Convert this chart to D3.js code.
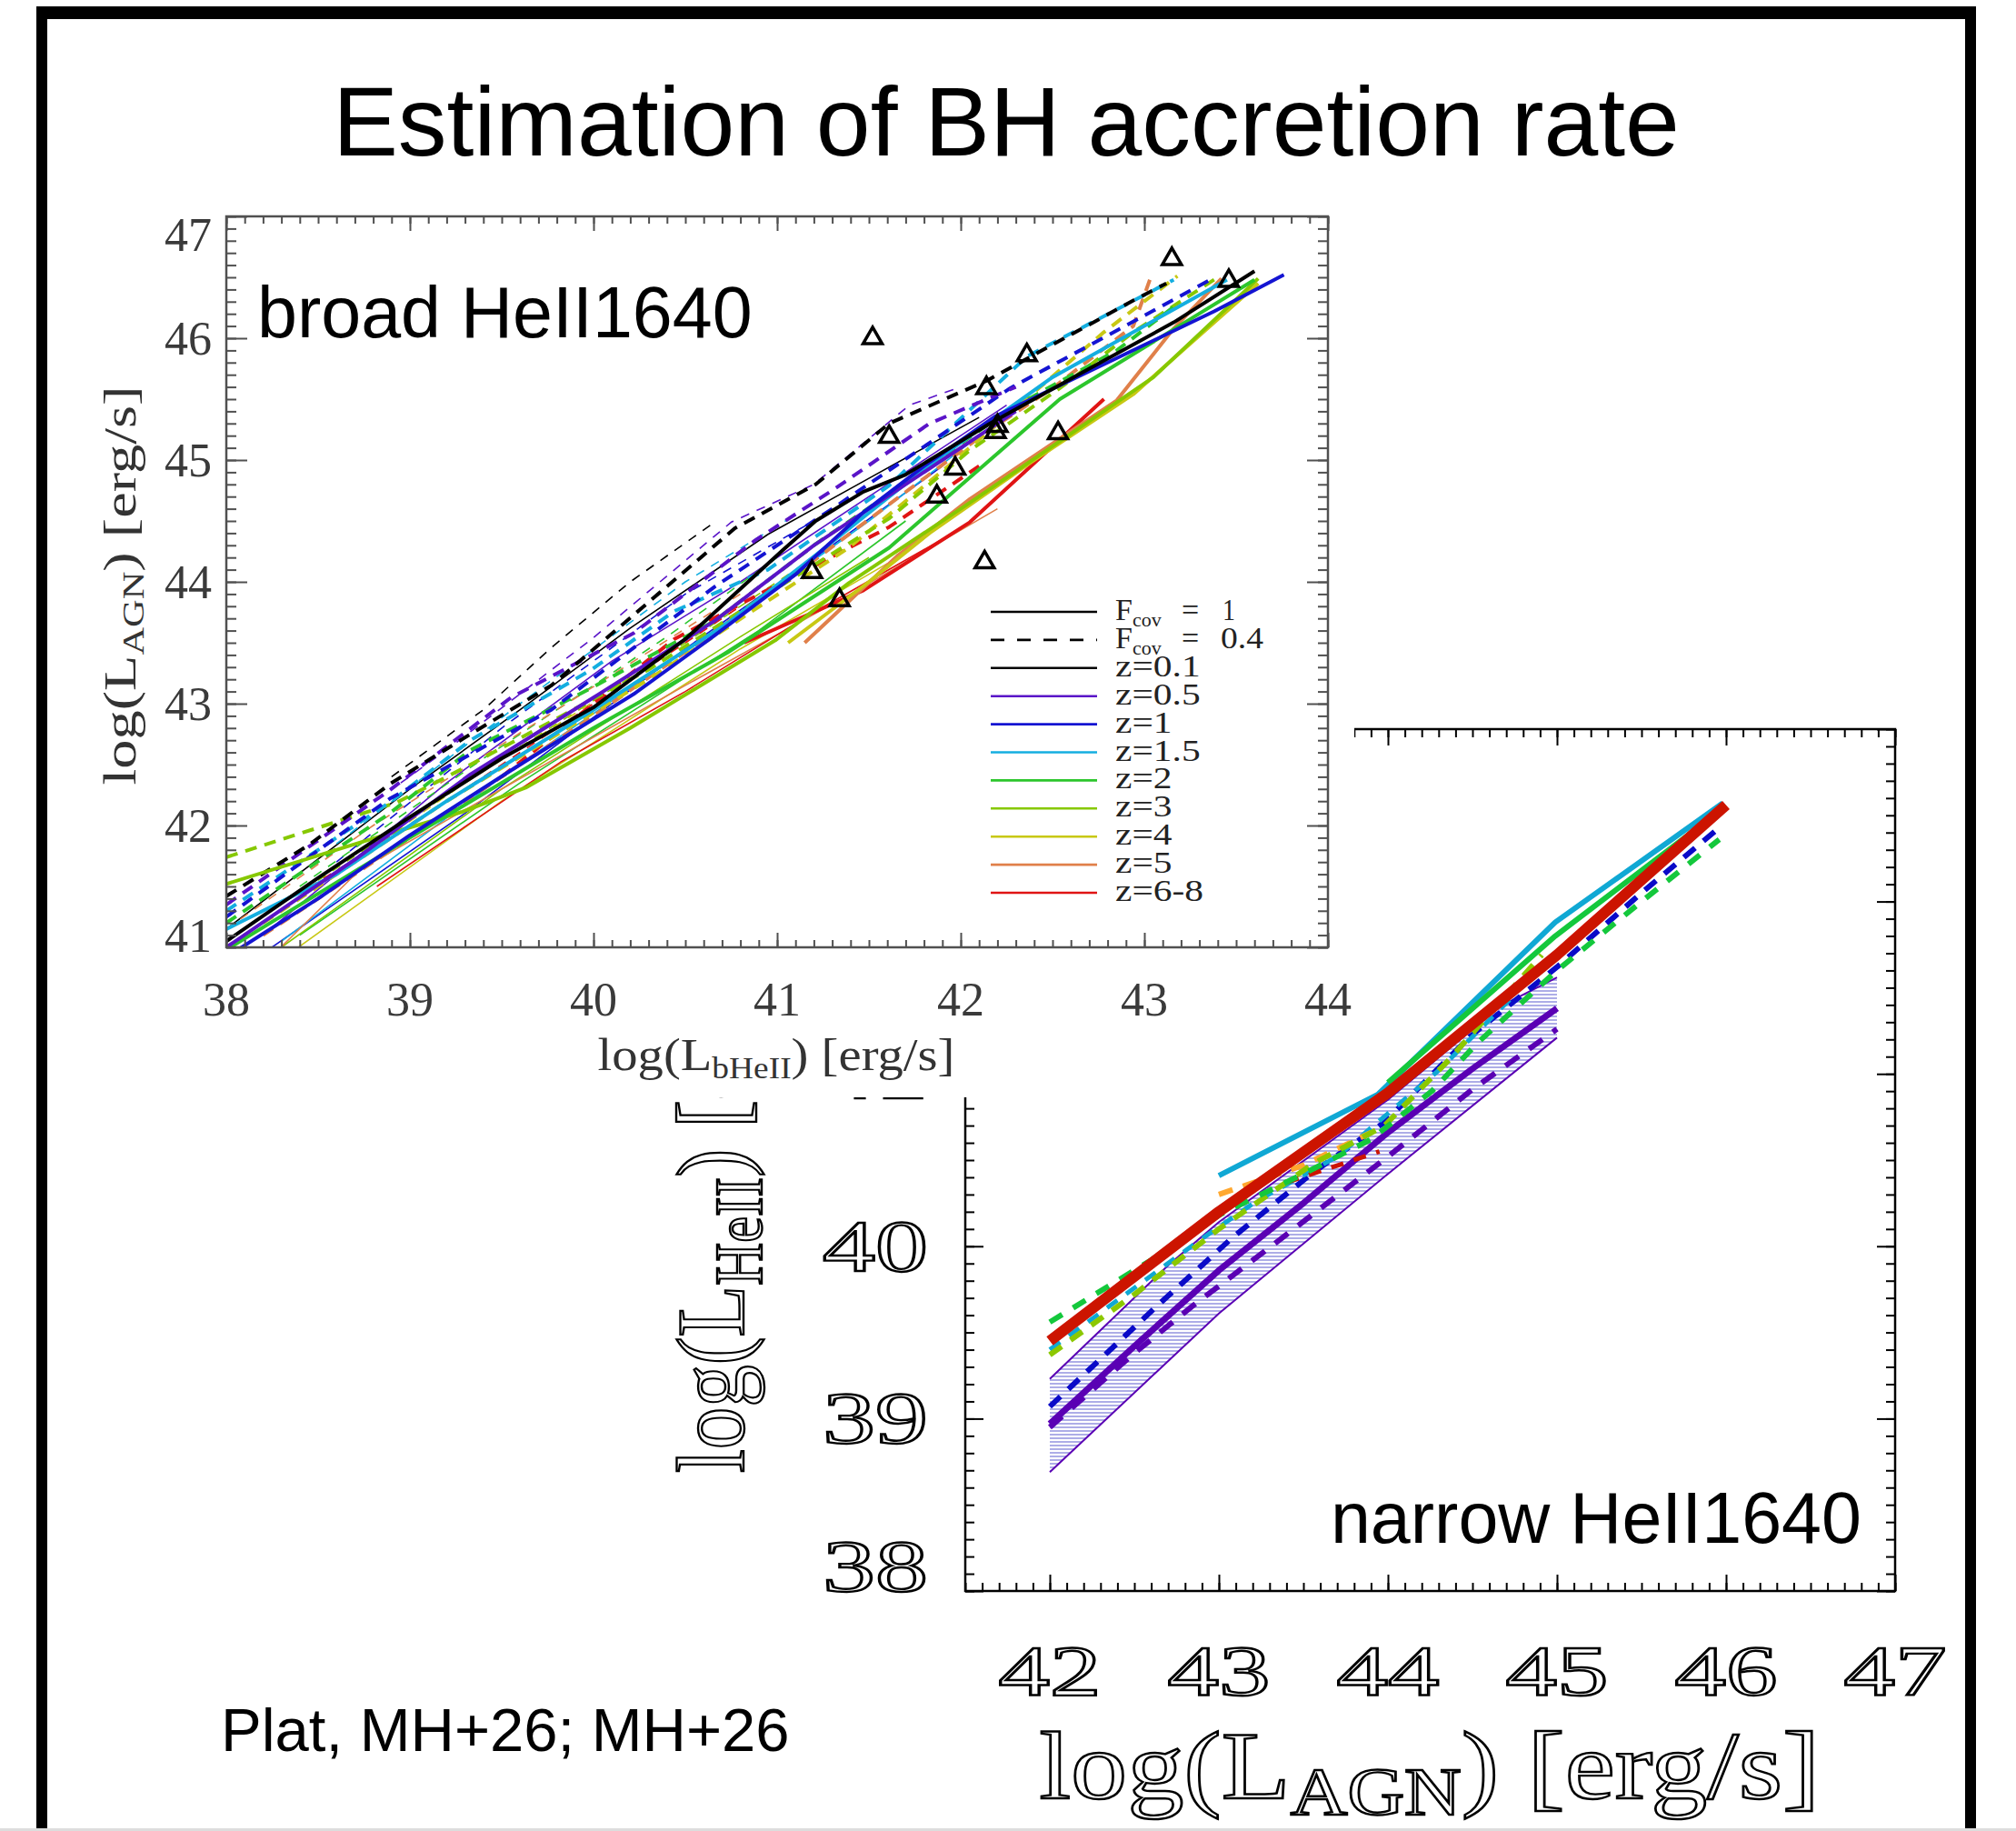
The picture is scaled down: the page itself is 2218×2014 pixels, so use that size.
<!DOCTYPE html>
<html><head><meta charset="utf-8">
<script src="https://cdn.jsdelivr.net/npm/d3@7"></script>
<style>body{margin:0;background:#fff;}svg{display:block}</style>
</head><body>
<svg id="c" width="2218" height="2014"></svg>
<script>
// ---------------- DATA ----------------
const zLabels = ["z=0.1","z=0.5","z=1","z=1.5","z=2","z=3","z=4","z=5","z=6-8"];
const covLabels = ["1","0.4"];
const topXTicks = [38,39,40,41,42,43,44];
const topYTicks = [41,42,43,44,45,46,47];
const botXTicks = [42,43,44,45,46,47];
const botYTicks = [38,39,40,41,42,43];

// observed AGN (triangles), broad HeII panel
const obsX = [43.15,43.46,41.52,42.36,42.14,41.61,42.20,42.19,42.53,41.97,41.87,42.13,41.19,41.34];
const obsY = [46.65,46.47,46.00,45.86,45.59,45.19,45.28,45.23,45.22,44.93,44.70,44.16,44.08,43.85];

// broad HeII, Fcov = 1 (solid)
const bS01  = [[38,41.05],[38.5,41.57],[39,42.07],[39.5,42.55],[40,42.97],[40.5,43.53],[41.03,44.26],[41.21,44.5],[41.47,44.74],[41.7,44.88],[42.16,45.3],[42.7,45.75],[43.16,46.13],[43.6,46.55]];
const bS01t = [[38,41.15],[39,42.3],[39.6,42.95],[40.2,43.62],[40.95,44.39],[41.5,44.85],[42.1,45.35]];
const bS05  = [[38,41.0],[38.7,41.72],[39.33,42.42],[40,43.05],[40.66,43.68],[41.2,44.3],[41.9,45.0],[42.3,45.4]];
const bS05t = [[38.2,41.1],[39.2,42.35],[40.1,43.35],[40.8,44.0],[41.6,44.8],[42.25,45.45]];
const bS1   = [[38,40.92],[38.5,41.4],[39,41.92],[39.6,42.5],[40.22,43.08],[40.66,43.56],[41.1,44.06],[41.47,44.57],[41.8,44.95],[42.19,45.36],[42.8,45.8],[43.38,46.22],[43.76,46.52]];
const bS1t  = [[38.2,40.95],[39.3,42.1],[40.5,43.45],[41.3,44.3],[41.9,44.95]];
const bS15  = [[38,41.15],[38.6,41.6],[39.2,42.2],[40,42.95],[40.73,43.66],[41.21,44.22],[41.83,44.96],[42.5,45.68],[43.45,46.48]];
const bS15t = [[38.3,41.05],[39.5,42.4],[40.8,43.75],[41.5,44.5],[42.1,45.2]];
const bS2   = [[38,40.98],[39,41.9],[40,42.8],[40.73,43.42],[41.61,44.28],[42.54,45.5],[43.6,46.48]];
const bS2t  = [[38.4,41.1],[39.6,42.35],[40.9,43.6],[41.7,44.5]];
const bS3   = [[38,41.52],[38.77,41.88],[39.28,42.11],[39.63,42.31],[40.2,42.8],[40.99,43.52],[41.39,43.99],[42.05,44.65],[43.05,45.68],[43.62,46.49]];
const bS3t  = [[38.3,41.0],[39.5,42.3],[40.8,43.55],[41.5,44.2]];
const bS4   = [[41.06,43.5],[41.5,44.0],[41.83,44.4],[42.4,45.0],[42.94,45.54],[43.62,46.45]];
const bS4t  = [[38.3,40.9],[39.5,42.2],[40.8,43.45],[41.6,44.15]];
const bS5   = [[41.15,43.5],[41.66,44.22],[42.05,44.68],[42.85,45.49],[43.16,46.08],[43.42,46.49]];
const bS5t  = [[38.29,40.99],[38.73,41.64],[39.5,42.3],[40.5,43.15],[41.4,43.9],[42.2,44.6]];
const bS68  = [[40.82,43.5],[41.47,43.93],[42.05,44.49],[42.78,45.5]];
const bS68t = [[38.82,41.5],[39.82,42.52],[40.5,43.1],[41.2,43.75],[41.9,44.35]];

// broad HeII, Fcov = 0.4 (dashed)
const bD01  = [[38,41.42],[38.45,41.84],[38.89,42.34],[39.33,42.75],[39.77,43.15],[40.22,43.73],[40.77,44.44],[41.21,44.8],[41.61,45.3],[42.14,45.65],[42.94,46.31],[43.12,46.45]];
const bD01t = [[38.9,42.4],[39.4,42.95],[39.77,43.46],[40.2,44.0],[40.66,44.49]];
const bD05  = [[38,41.35],[38.89,42.29],[39.55,43.05],[40.22,43.58],[40.88,44.34],[41.32,44.77],[41.83,45.3],[42.3,45.6]];
const bD05t = [[38.95,42.35],[39.2,42.62],[39.99,43.53],[40.75,44.49],[41.2,44.8],[41.72,45.45],[42.0,45.6]];
const bD1   = [[38,41.25],[38.89,42.22],[39.77,42.95],[40.66,43.96],[41.32,44.62],[42.27,45.59],[43.36,46.48]];
const bD1t  = [[38.6,41.7],[39.5,42.8],[40.5,43.9],[41.2,44.5]];
const bD15  = [[38,41.3],[38.9,42.2],[39.33,42.7],[39.99,43.28],[40.44,43.76],[40.95,44.1],[41.61,44.79],[42.36,45.85],[43.16,46.48]];
const bD15t = [[38.6,41.85],[39.6,43.0],[40.5,44.0],[41.1,44.55]];
const bD2   = [[38,41.2],[38.89,42.1],[39.33,42.62],[39.99,43.13],[40.66,43.68],[41.21,44.31],[41.61,44.72],[42.27,45.42],[42.85,45.9],[43.18,46.28]];
const bD2t  = [[38.4,41.5],[39.4,42.55],[40.4,43.55],[41.0,44.2]];
const bD3   = [[38,41.74],[38.93,42.19],[39.33,42.5],[40.3,43.28],[41.0,43.95],[41.61,44.52],[42.05,45.08],[42.54,45.59],[42.94,46.05],[43.38,46.48]];
const bD3t  = [[38.5,41.55],[39.5,42.55],[40.5,43.5],[41.3,44.3]];
const bD4   = [[38.2,41.2],[39.2,42.2],[40.3,43.2],[41.39,44.28],[41.94,44.96],[42.78,46.05],[43.18,46.51]];
const bD4t  = [[38.3,41.3],[39.3,42.35],[40.3,43.3]];
const bD5   = [[38.2,41.1],[39.0,41.9],[40.0,42.9],[41.0,43.95],[41.72,44.76],[42.16,45.25],[42.5,45.59],[42.94,46.1],[43.03,46.48]];
const bD5t  = [[38.0,41.15],[38.8,42.0],[39.8,42.95],[40.8,43.9]];
const bD68  = [[39.5,42.4],[40.44,43.53],[40.88,43.88],[41.61,44.45],[42.1,44.95]];
const bD68t = [[38.45,41.49],[39.2,42.2],[40.0,43.0],[40.8,43.8]];

// narrow HeII panel
const nBandUpper = [[42,39.23],[42.7,39.89],[43,40.14],[44,40.85],[44.66,41.39],[45,41.56]];
const nBandLower = [[42,38.69],[43,39.61],[44,40.42],[45,41.21]];
const nPurpleSolid  = [[42,38.97],[42.5,39.42],[43,39.86],[43.5,40.25],[44,40.66],[44.5,41.03],[45,41.38]];
const nPurpleDashed = [[42,38.95],[42.5,39.38],[42.84,39.65],[43.35,40.03],[44,40.52],[44.5,40.91],[45,41.26]];
const nBlueDashed   = [[42,39.07],[42.63,39.65],[43.08,40.05],[43.56,40.43],[43.98,40.72],[44.49,41.22],[45,41.62],[45.5,42.05],[45.95,42.42]];
const nCyanDashed   = [[42,39.4],[42.88,40.03],[43.22,40.26],[43.7,40.52],[44.3,41.02],[44.72,41.43]];
const nOrangeDashed = [[43.0,40.3],[43.5,40.47],[43.9,40.66]];
const nRedDashed    = [[43.4,40.37],[43.95,40.55]];
const nYGDashed     = [[42,39.37],[42.5,39.72],[43,40.1],[43.56,40.48],[43.98,40.7],[44.36,41.08],[44.91,41.69]];
const nGreenDashed  = [[42,39.56],[42.6,39.92],[43,40.18],[43.5,40.42],[43.9,40.62],[44.26,40.9],[44.53,41.18],[45,41.6],[45.5,42.0],[45.96,42.36]];
const nCyanSolid    = [[43,40.41],[43.94,40.88],[44.99,41.88],[45.98,42.57]];
const nGreenSolid   = [[44,40.95],[44.99,41.8],[45.97,42.53]];
const nRedSolid     = [[42,39.45],[43,40.2],[44,40.89],[45,41.69],[46,42.56]];

// ---------------- STYLE ----------------
const zColors = ["#000000","#5a14c8","#1414d2","#14aee0","#2cc62c","#86c800","#c8c814","#e0804a","#e01414"];
const SERIF = "'Liberation Serif','DejaVu Serif',serif";
const SANS = "'Liberation Sans',Arial,Helvetica,sans-serif";

const topSeries = [
  {z:0,cov:1,thick:false,pts:bS01t},{z:1,cov:1,thick:false,pts:bS05t},{z:2,cov:1,thick:false,pts:bS1t},
  {z:3,cov:1,thick:false,pts:bS15t},{z:4,cov:1,thick:false,pts:bS2t},{z:5,cov:1,thick:false,pts:bS3t},
  {z:6,cov:1,thick:false,pts:bS4t},{z:7,cov:1,thick:false,pts:bS5t},{z:8,cov:1,thick:false,pts:bS68t},
  {z:0,cov:0,thick:false,pts:bD01t},{z:1,cov:0,thick:false,pts:bD05t},{z:2,cov:0,thick:false,pts:bD1t},
  {z:3,cov:0,thick:false,pts:bD15t},{z:4,cov:0,thick:false,pts:bD2t},{z:5,cov:0,thick:false,pts:bD3t},
  {z:6,cov:0,thick:false,pts:bD4t},{z:7,cov:0,thick:false,pts:bD5t},{z:8,cov:0,thick:false,pts:bD68t},
  {z:8,cov:0,thick:true,pts:bD68},{z:7,cov:0,thick:true,pts:bD5},{z:6,cov:0,thick:true,pts:bD4},
  {z:5,cov:0,thick:true,pts:bD3},{z:4,cov:0,thick:true,pts:bD2},{z:3,cov:0,thick:true,pts:bD15},
  {z:2,cov:0,thick:true,pts:bD1},{z:1,cov:0,thick:true,pts:bD05},{z:0,cov:0,thick:true,pts:bD01},
  {z:8,cov:1,thick:true,pts:bS68},{z:7,cov:1,thick:true,pts:bS5},{z:6,cov:1,thick:true,pts:bS4},
  {z:5,cov:1,thick:true,pts:bS3},{z:4,cov:1,thick:true,pts:bS2},{z:3,cov:1,thick:true,pts:bS15},
  {z:1,cov:1,thick:true,pts:bS05},{z:2,cov:1,thick:true,pts:bS1},{z:0,cov:1,thick:true,pts:bS01}
];

const botSeries = [
  {pts:nPurpleDashed,color:"#5a00b4",w:6,dash:"18,14"},
  {pts:nPurpleSolid,color:"#5a00b4",w:7,dash:null},
  {pts:nBlueDashed,color:"#0a0ac8",w:6,dash:"16,12"},
  {pts:nCyanDashed,color:"#10a8d4",w:5,dash:"14,12"},
  {pts:nOrangeDashed,color:"#ffa830",w:6,dash:"16,12"},
  {pts:nRedDashed,color:"#cc1400",w:5,dash:"14,12"},
  {pts:nYGDashed,color:"#8cc800",w:6,dash:"16,12"},
  {pts:nGreenDashed,color:"#14c83c",w:6,dash:"16,14"},
  {pts:nCyanSolid,color:"#10a8d4",w:6,dash:null},
  {pts:nGreenSolid,color:"#14c83c",w:6,dash:null},
  {pts:nRedSolid,color:"#cc1400",w:12,dash:null}
];

// ---------------- DRAW ----------------
const svg = d3.select("#c");
const defs = svg.append("defs");
const pat = defs.append("pattern").attr("id","hatch").attr("patternUnits","userSpaceOnUse")
  .attr("width",8).attr("height",4);
pat.append("line").attr("x1",0).attr("y1",2).attr("x2",8).attr("y2",2)
  .attr("stroke","#6a6ad4").attr("stroke-width",1.1);

svg.append("rect").attr("width",2218).attr("height",2014).attr("fill","#fff");

function rng(a,b,s){ const out=[]; const n=Math.round((b-a)/s); for(let i=0;i<=n;i++) out.push(+(a+i*s).toFixed(3)); return out; }

function drawAxes(g, x, y, opt){
  const [x0,x1] = x.range(), [y0,y1] = y.range();
  const xMin = rng(x.domain()[0], x.domain()[1], 0.1);
  const yMin = rng(y.domain()[0], y.domain()[1], 0.1);
  const mk = (axisFn, tr, vals, len) => {
    const a = g.append("g").attr("transform",tr)
      .call(axisFn.tickValues(vals).tickSizeInner(-len).tickSizeOuter(0).tickFormat(""));
    a.select(".domain").remove();
    a.selectAll("line").attr("stroke",opt.color).attr("stroke-width",opt.tw);
  };
  mk(d3.axisBottom(x), `translate(0,${y0})`, xMin, opt.xmin);
  mk(d3.axisBottom(x), `translate(0,${y0})`, opt.xMaj, opt.xmaj);
  mk(d3.axisTop(x), `translate(0,${y1})`, xMin, opt.xmin);
  mk(d3.axisTop(x), `translate(0,${y1})`, opt.xMaj, opt.xmaj);
  mk(d3.axisLeft(y), `translate(${x0},0)`, yMin, opt.ymin);
  mk(d3.axisLeft(y), `translate(${x0},0)`, opt.yMaj, opt.ymaj);
  mk(d3.axisRight(y), `translate(${x1},0)`, yMin, opt.ymin);
  mk(d3.axisRight(y), `translate(${x1},0)`, opt.yMaj, opt.ymaj);
  g.append("rect").attr("x",x0).attr("y",y1).attr("width",x1-x0).attr("height",y0-y1)
    .attr("fill","none").attr("stroke",opt.color).attr("stroke-width",opt.bw);
}
// hollow, thin-outlined serif glyphs (like the stroked plot font)
function hollow(sel){ return sel.attr("fill","#fff").attr("stroke","#000").attr("stroke-width",2.4); }

// ===== Bottom panel: narrow HeII =====
const xB = d3.scaleLinear().domain([41.5,47]).range([1062,2085]);
const yB = d3.scaleLinear().domain([38,43]).range([1750,802]);
const gB = svg.append("g");
const lineB = d3.line().x(d=>xB(d[0])).y(d=>yB(d[1]));

gB.append("path").attr("d", lineB(nBandUpper.concat(nBandLower.slice().reverse()))+"Z")
  .attr("fill","url(#hatch)").attr("stroke","none");
[nBandUpper,nBandLower].forEach(p=>gB.append("path").attr("d",lineB(p))
  .attr("fill","none").attr("stroke","#5a00b4").attr("stroke-width",2));
botSeries.forEach(s=>{
  gB.append("path").attr("d",lineB(s.pts)).attr("fill","none")
    .attr("stroke",s.color).attr("stroke-width",s.w)
    .attr("stroke-dasharray",s.dash).attr("stroke-linecap","butt").attr("stroke-linejoin","round");
});
drawAxes(gB, xB, yB, {color:"#000", tw:2, bw:2.5, xMaj:[42,43,44,45,46,47], yMaj:botYTicks,
  xmaj:18, xmin:9, ymaj:20, ymin:10});

gB.selectAll(".bxl").data(botXTicks).join("text")
  .attr("x",d=>xB(d)).attr("y",1864).attr("text-anchor","middle")
  .attr("font-family",SERIF).attr("font-size",78)
  .attr("textLength",113).attr("lengthAdjust","spacingAndGlyphs").text(d=>d).call(hollow);
gB.selectAll(".byl").data(botYTicks).join("text")
  .attr("x",1021).attr("y",d=> d===38 ? yB(d) : yB(d)+27).attr("text-anchor","end")
  .attr("font-family",SERIF).attr("font-size",80)
  .attr("textLength",116).attr("lengthAdjust","spacingAndGlyphs").text(d=>d).call(hollow);

const bxt = gB.append("text").attr("x",1573).attr("y",1978).attr("text-anchor","middle")
  .attr("font-family",SERIF).attr("font-size",106)
  .attr("textLength",859).attr("lengthAdjust","spacingAndGlyphs").call(hollow);
bxt.append("tspan").text("log(L");
bxt.append("tspan").attr("font-size",74).attr("dy",18).text("AGN");
bxt.append("tspan").attr("dy",-18).text(") [erg/s]");

const byt = gB.append("text").attr("transform","translate(818,1620) rotate(-90)")
  .attr("text-anchor","start").attr("font-family",SERIF).attr("font-size",106)
  .attr("textLength",620).attr("lengthAdjust","spacingAndGlyphs").call(hollow);
byt.append("tspan").text("log(L");
byt.append("tspan").attr("font-size",74).attr("dy",20).text("HeII");
byt.append("tspan").attr("dy",-20).text(") [erg/s]");

gB.append("text").attr("x",2048).attr("y",1697).attr("text-anchor","end")
  .attr("font-family",SANS).attr("font-size",79).attr("fill","#000").text("narrow HeII1640");

// ===== Cover (top panel image background) =====
svg.append("rect").attr("x",55).attr("y",215).attr("width",1435).attr("height",992).attr("fill","#fff");

// ===== Top panel: broad HeII =====
const xT = d3.scaleLinear().domain([38,44]).range([249,1461]);
const yT = d3.scaleLinear().domain([41,47]).range([1042,238]);
const gT = svg.append("g");
defs.append("clipPath").attr("id","clipT").append("rect")
  .attr("x",249).attr("y",238).attr("width",1212).attr("height",804);
const lineT = d3.line().x(d=>xT(d[0])).y(d=>yT(d[1]));
const gL = gT.append("g").attr("clip-path","url(#clipT)");
topSeries.forEach(s=>{
  gL.append("path").attr("d",lineT(s.pts)).attr("fill","none")
    .attr("stroke",zColors[s.z])
    .attr("stroke-width", s.thick ? 4 : 1.6)
    .attr("stroke-dasharray", s.cov===0 ? (s.thick ? "13,9" : "10,9") : null)
    .attr("stroke-linejoin","round");
});
const sym = d3.symbol().type(d3.symbolTriangle).size(190);
gT.selectAll(".tri").data(obsX.map((x,i)=>[x,obsY[i]])).join("path")
  .attr("d",sym).attr("transform",d=>`translate(${xT(d[0])},${yT(d[1])})`)
  .attr("fill","none").attr("stroke","#000").attr("stroke-width",3.5);

drawAxes(gT, xT, yT, {color:"#505050", tw:2, bw:2.5, xMaj:topXTicks, yMaj:topYTicks,
  xmaj:16, xmin:8, ymaj:23, ymin:11});

gT.selectAll(".txl").data(topXTicks).join("text")
  .attr("x",d=>xT(d)).attr("y",1117).attr("text-anchor","middle")
  .attr("font-family",SERIF).attr("font-size",52).attr("fill","#3a3a3a").text(d=>d);
gT.selectAll(".tyl").data(topYTicks).join("text")
  .attr("x",233).attr("y",d=> yT(d)+18 + (d===47 ? 20 : d===41 ? -13 : 0)).attr("text-anchor","end")
  .attr("font-family",SERIF).attr("font-size",52).attr("fill","#3a3a3a").text(d=>d);

const txt = gT.append("text").attr("x",854).attr("y",1177).attr("text-anchor","middle")
  .attr("font-family",SERIF).attr("font-size",50).attr("fill","#333")
  .attr("textLength",393).attr("lengthAdjust","spacingAndGlyphs");
txt.append("tspan").text("log(L");
txt.append("tspan").attr("font-size",33).attr("dy",9).text("bHeII");
txt.append("tspan").attr("dy",-9).text(") [erg/s]");

const tyt = gT.append("text").attr("transform","translate(149,644) rotate(-90)")
  .attr("text-anchor","middle").attr("font-family",SERIF).attr("font-size",50).attr("fill","#333")
  .attr("textLength",439).attr("lengthAdjust","spacingAndGlyphs");
tyt.append("tspan").text("log(L");
tyt.append("tspan").attr("font-size",33).attr("dy",9).text("AGN");
tyt.append("tspan").attr("dy",-9).text(") [erg/s]");

gT.append("text").attr("x",283).attr("y",371)
  .attr("font-family",SANS).attr("font-size",79).attr("fill","#000").text("broad HeII1640");

// legend
const lg = gT.append("g");
const rowY = i => 673 + i*30.9;
[0,1].forEach(i=>{
  lg.append("line").attr("x1",1090).attr("x2",1207).attr("y1",rowY(i)).attr("y2",rowY(i))
    .attr("stroke","#000").attr("stroke-width",2.6).attr("stroke-dasharray", i===1 ? "15,14" : null);
  const t = lg.append("text").attr("x",1227).attr("y",rowY(i)+9)
    .attr("font-family",SERIF).attr("font-size",34).attr("fill","#222");
  t.append("tspan").text("F");
  t.append("tspan").attr("font-size",22).attr("dy",7).text("cov");
  lg.append("text").attr("x",1300).attr("y",rowY(i)+9).attr("font-family",SERIF).attr("font-size",34)
    .attr("fill","#222").text("=");
  lg.append("text").attr("x", i===0 ? 1345 : 1343).attr("y",rowY(i)+9).attr("font-family",SERIF)
    .attr("font-size",34).attr("fill","#222")
    .attr("textLength", i===0 ? 14 : 47).attr("lengthAdjust","spacingAndGlyphs").text(covLabels[i]);
});
zLabels.forEach((lab,j)=>{
  const i = j+2;
  lg.append("line").attr("x1",1090).attr("x2",1207).attr("y1",rowY(i)).attr("y2",rowY(i))
    .attr("stroke",zColors[j]).attr("stroke-width",2.6);
  lg.append("text").attr("x",1227).attr("y",rowY(i)+9).attr("font-family",SERIF)
    .attr("font-size",34).attr("fill","#222").text(lab)
    .each(function(){ const L=this.getComputedTextLength(); d3.select(this).attr("textLength",L*1.22).attr("lengthAdjust","spacingAndGlyphs"); });
});

// ===== Title, credit, frame =====
svg.append("text").attr("x",1107).attr("y",171).attr("text-anchor","middle")
  .attr("font-family",SANS).attr("font-size",107.5).attr("fill","#000").text("Estimation of BH accretion rate");
svg.append("text").attr("x",243).attr("y",1926)
  .attr("font-family",SANS).attr("font-size",67).attr("fill","#000").text("Plat, MH+26; MH+26");

svg.append("rect").attr("x",40).attr("y",7).attr("width",2134).attr("height",14).attr("fill","#000");
svg.append("rect").attr("x",40).attr("y",7).attr("width",12).attr("height",2007).attr("fill","#000");
svg.append("rect").attr("x",2162).attr("y",7).attr("width",12).attr("height",2007).attr("fill","#000");
svg.append("rect").attr("x",0).attr("y",2011).attr("width",2218).attr("height",3).attr("fill","#ddd");
</script>
</body></html>
